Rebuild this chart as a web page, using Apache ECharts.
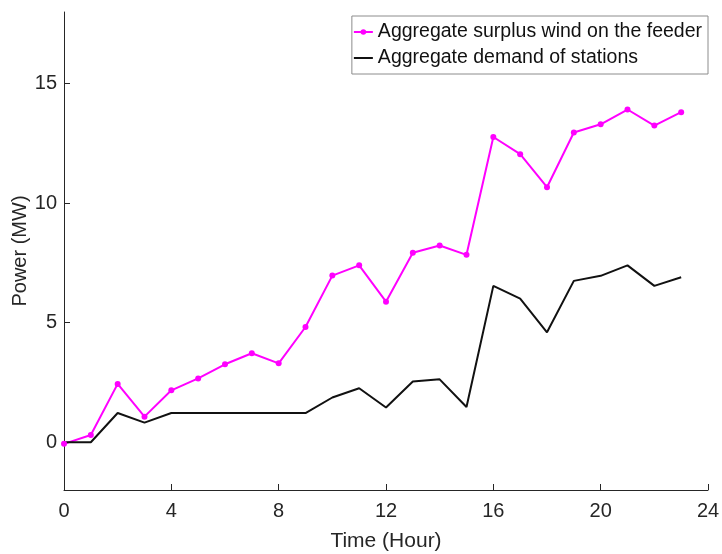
<!DOCTYPE html>
<html>
<head>
<meta charset="utf-8">
<script src="https://cdn.jsdelivr.net/npm/echarts@6/dist/echarts.min.js"></script>
<style>
  html, body { margin: 0; padding: 0; background: #fff; }
  #chart { width: 722px; height: 554px; }
</style>
</head>
<body>
<div id="chart"></div>
<script>
const hours = [0, 1, 2, 3, 4, 5, 6, 7, 8, 9, 10, 11, 12, 13, 14, 15, 16, 17, 18, 19, 20, 21, 22, 23];
const surplusWind = [-0.07, 0.3, 2.44, 1.07, 2.17, 2.67, 3.26, 3.72, 3.3, 4.82, 6.97, 7.4, 5.88, 7.93, 8.23, 7.84, 12.77, 12.05, 10.67, 12.96, 13.3, 13.92, 13.25, 13.81];
const stationDemand = [0, 0, 1.22, 0.82, 1.22, 1.22, 1.22, 1.22, 1.22, 1.22, 1.87, 2.26, 1.45, 2.54, 2.63, 1.47, 6.54, 6.01, 4.6, 6.75, 6.96, 7.4, 6.54, 6.9];
const yTicks = [0, 5, 10, 15];

const AXIS_FONT = '"Liberation Sans Narrow", "Liberation Sans", Arial, sans-serif';
const AXIS_COLOR = '#262626';

const chart = echarts.init(document.getElementById('chart'));

const option = {
  animation: false,
  grid: { left: 64, right: 14, top: 12, bottom: 64, containLabel: false, outerBoundsMode: 'none' },
  legend: {
    orient: 'vertical',
    right: 14,
    top: 16,
    itemWidth: 19,
    itemHeight: 7,
    itemGap: 6,
    padding: [6, 6, 6, 1],
    borderColor: '#8c8c8c',
    borderWidth: 1,
    backgroundColor: '#fff',
    textStyle: { fontFamily: 'Arial, "Liberation Sans", sans-serif', fontSize: 19.5, color: '#111' },
    data: [
      { name: 'Aggregate surplus wind on the feeder' },
      { name: 'Aggregate demand of stations', itemStyle: { opacity: 0 } },
    ],
  },
  xAxis: {
    type: 'value',
    min: 0,
    max: 24,
    interval: 4,
    name: 'Time (Hour)',
    nameLocation: 'middle',
    nameGap: 41,
    nameMoveOverlap: false,
    nameTextStyle: { fontFamily: AXIS_FONT, fontSize: 21, color: AXIS_COLOR },
    axisLine: { show: true, onZero: false, lineStyle: { color: AXIS_COLOR, width: 1 } },
    axisTick: { show: true, inside: true, length: 6, lineStyle: { color: AXIS_COLOR } },
    axisLabel: { fontFamily: AXIS_FONT, fontSize: 20, color: AXIS_COLOR, margin: 11 },
    splitLine: { show: false },
  },
  yAxis: {
    type: 'value',
    min: -2,
    max: 18,
    name: 'Power (MW)',
    nameLocation: 'middle',
    nameGap: 34,
    nameMoveOverlap: false,
    nameTextStyle: { fontFamily: AXIS_FONT, fontSize: 20, color: AXIS_COLOR },
    axisLine: { show: true, onZero: false, lineStyle: { color: AXIS_COLOR, width: 1 } },
    axisTick: { show: true, inside: true, length: 6, customValues: yTicks, lineStyle: { color: AXIS_COLOR } },
    axisLabel: { fontFamily: AXIS_FONT, fontSize: 20, color: AXIS_COLOR, margin: 7, customValues: yTicks },
    splitLine: { show: false },
  },
  series: [
    {
      name: 'Aggregate surplus wind on the feeder',
      type: 'line',
      data: hours.map((h, i) => [h, surplusWind[i]]),
      color: '#ff00ff',
      lineStyle: { width: 2, color: '#ff00ff' },
      symbol: 'circle',
      symbolSize: 6,
      showSymbol: true,
      itemStyle: { color: '#ff00ff' },
    },
    {
      name: 'Aggregate demand of stations',
      type: 'line',
      data: hours.map((h, i) => [h, stationDemand[i]]),
      color: '#111',
      lineStyle: { width: 2, color: '#111' },
      showSymbol: false,
      symbol: 'none',
    },
  ],
};

chart.setOption(option);
</script>
</body>
</html>
